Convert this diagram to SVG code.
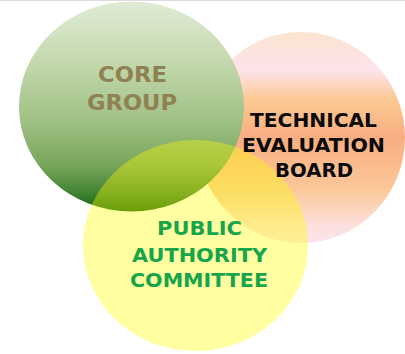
<svg xmlns="http://www.w3.org/2000/svg" width="405" height="354" viewBox="0 0 405 354">
<defs>
<linearGradient id="gGreen" x1="0" y1="0" x2="0" y2="1">
<stop offset="0" stop-color="#e0ebd6"/>
<stop offset="0.3" stop-color="#c2d8ab"/>
<stop offset="0.55" stop-color="#a3c287"/>
<stop offset="0.78" stop-color="#78a65c"/>
<stop offset="0.92" stop-color="#3d8030"/>
<stop offset="1" stop-color="#16650f"/>
</linearGradient>
<linearGradient id="gOrange" x1="0" y1="0" x2="0" y2="1">
<stop offset="0" stop-color="#fbe4cf"/>
<stop offset="0.18" stop-color="#fde3ec"/>
<stop offset="0.32" stop-color="#fbc993"/>
<stop offset="0.5" stop-color="#f9ad80"/>
<stop offset="0.75" stop-color="#fbc99a"/>
<stop offset="0.92" stop-color="#fde0de"/>
<stop offset="1" stop-color="#fde4ec"/>
</linearGradient>
<style>
text{font-family:"DejaVu Sans","Liberation Sans",sans-serif;font-weight:bold;text-anchor:middle;font-size:20px}
.core{fill:#8f8152;font-size:22px}
.tech{fill:#0a0a0a}
.pub{fill:#16a54a}
</style>
</defs>
<rect x="0" y="0" width="405" height="354" fill="#ffffff"/>
<line x1="0" y1="0.5" x2="405" y2="0.5" stroke="#dcdcdc" stroke-width="1"/>
<g id="technical-evaluation-board">
<ellipse cx="301" cy="137.5" rx="104" ry="105.5" fill="url(#gOrange)"/>
</g>
<g id="core-group">
<ellipse cx="131.5" cy="106.5" rx="112.5" ry="105" fill="url(#gGreen)"/>
</g>
<g id="public-authority-committee">
<ellipse cx="195.5" cy="245.5" rx="112.5" ry="105.5" fill="#ffff00" opacity="0.37"/>
</g>
<g id="labels">
<text class="core" x="132.5" y="82" textLength="69" lengthAdjust="spacingAndGlyphs">CORE</text>
<text class="core" x="132" y="110" textLength="90" lengthAdjust="spacingAndGlyphs">GROUP</text>
<text class="tech" x="313.5" y="127" textLength="127" lengthAdjust="spacingAndGlyphs">TECHNICAL</text>
<text class="tech" x="313.5" y="152" textLength="143" lengthAdjust="spacingAndGlyphs">EVALUATION</text>
<text class="tech" x="314" y="177" textLength="78" lengthAdjust="spacingAndGlyphs">BOARD</text>
<text class="pub" x="199.5" y="235" textLength="85" lengthAdjust="spacingAndGlyphs">PUBLIC</text>
<text class="pub" x="199.5" y="262" textLength="135" lengthAdjust="spacingAndGlyphs">AUTHORITY</text>
<text class="pub" x="199" y="287" textLength="138" lengthAdjust="spacingAndGlyphs">COMMITTEE</text>
</g>
</svg>
